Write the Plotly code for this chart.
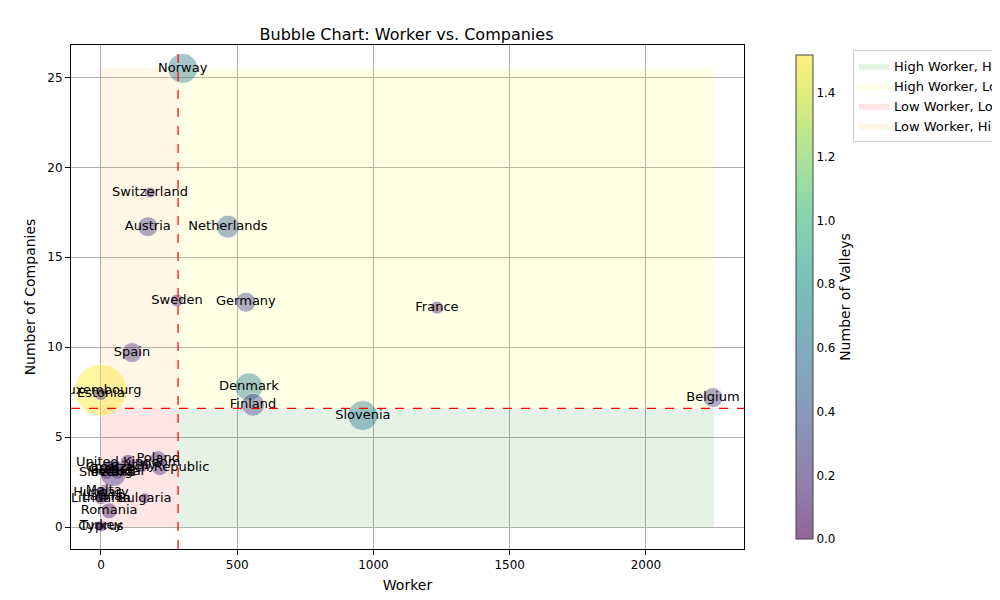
import plotly.graph_objects as go
from plotly.colors import sequential

countries = ["Norway", "Switzerland", "Austria", "Netherlands", "Sweden", "Germany", "France",
             "Spain", "Luxembourg", "Estonia", "Denmark", "Finland", "Belgium", "Slovenia",
             "United Kingdom", "Poland", "Czech Republic", "Italy", "Greece", "Croatia",
             "Portugal", "Slovakia", "Ireland", "Malta", "Hungary", "Lithuania", "Latvia",
             "Bulgaria", "Romania", "Turkey", "Cyprus"]
worker = [300, 180, 172, 466, 279, 532, 1233,
          114, 0, 0, 543, 558, 2246, 961,
          100, 210, 216, 150, 40, 30,
          60, 20, 45, 10, 0, 0, 5,
          160, 30, 0, 0]
companies = [25.5, 18.6, 16.7, 16.7, 12.6, 12.5, 12.2,
             9.7, 7.6, 7.4, 7.8, 6.8, 7.2, 6.2,
             3.6, 3.8, 3.3, 3.4, 3.2, 3.3,
             3.1, 3.0, 3.0, 2.0, 1.9, 1.6, 1.7,
             1.6, 0.9, 0.1, 0.0]
valleys = [0.6, 0.1, 0.25, 0.45, 0.1, 0.3, 0.1,
           0.2, 1.52, 0.1, 0.65, 0.3, 0.25, 0.6,
           0.1, 0.15, 0.2, 0.1, 0.1, 0.1,
           0.15, 0.1, 0.25, 0.1, 0.1, 0.1, 0.1,
           0.05, 0.1, 0.05, 0.05]
sizes = [30, 11, 20, 23, 13, 20, 13,
         20, 52, 13, 28, 23, 20, 30,
         16, 16, 16, 13, 13, 13,
         16, 13, 27, 13, 13, 13, 13,
         11, 16, 10, 10]

x_mean, y_mean = 283, 6.6
x_max, y_max = 2250, 25.5

quadrants = [
    ("High Worker, High Companies", "rgba(0,128,0,0.1)", x_mean, x_max, 0, y_mean),
    ("High Worker, Low Companies", "rgba(255,255,0,0.1)", x_mean, x_max, y_mean, y_max),
    ("Low Worker, Low Companies", "rgba(255,0,0,0.1)", 0, x_mean, 0, y_mean),
    ("Low Worker, High Companies", "rgba(255,165,0,0.1)", 0, x_mean, y_mean, y_max),
]


def faded(c, a=0.6):
    c = c.lstrip("#")
    r, g, b = int(c[0:2], 16), int(c[2:4], 16), int(c[4:6], 16)
    return f"rgba({r},{g},{b},{a})"


vir = sequential.Viridis
scale = [[i / (len(vir) - 1), faded(c)] for i, c in enumerate(vir)]

fig = go.Figure()
for name, col, x0, x1, y0, y1 in quadrants:
    fig.add_trace(go.Scatter(
        x=[x0, x1, x1, x0, x0], y=[y0, y0, y1, y1, y0],
        fill="toself", fillcolor=col, line=dict(width=0), mode="lines",
        name=name, hoverinfo="skip"))

fig.add_trace(go.Scatter(
    x=worker, y=companies, mode="markers+text", text=countries,
    textposition="middle center", textfont=dict(size=13, color="black"),
    showlegend=False,
    marker=dict(size=sizes, color=valleys, colorscale=scale, cmin=0, cmax=1.52,
                line=dict(width=1, color="rgba(255,255,255,0.8)"),
                colorbar=dict(title=dict(text="Number of Valleys", side="right"),
                              x=1.062, xanchor="left", thickness=17, len=1.0,
                              y=0.5, yanchor="middle", outlinewidth=1,
                              tickvals=[0, 0.2, 0.4, 0.6, 0.8, 1.0, 1.2, 1.4],
                              ticktext=["0.0", "0.2", "0.4", "0.6", "0.8", "1.0", "1.2", "1.4"]))))

fig.add_vline(x=x_mean, line=dict(color="red", dash="dash", width=1.2))
fig.add_hline(y=y_mean, line=dict(color="red", dash="dash", width=1.2))

axis = dict(showgrid=True, gridcolor="#b0b0b0", zeroline=False, showline=True,
            linecolor="black", mirror=True, ticks="outside", color="black")
fig.update_layout(
    width=1000, height=600, plot_bgcolor="white", paper_bgcolor="white",
    font=dict(family="DejaVu Sans", size=12, color="black"),
    title=dict(text="Bubble Chart: Worker vs. Companies", x=0.3985, xanchor="center",
               y=0.965, font=dict(size=16)),
    margin=dict(l=63, r=264, t=37, b=59, autoexpand=False),
    xaxis=dict(axis, title=dict(text="Worker", standoff=8), range=[-110, 2360], dtick=500),
    yaxis=dict(axis, title=dict(text="Number of Companies", standoff=8), range=[-1.22, 26.8], dtick=5),
    legend=dict(x=1.162, y=0.99, xanchor="left", yanchor="top", bordercolor="#cccccc",
                borderwidth=1, font=dict(size=13)),
)
fig.write_html("out.html")
